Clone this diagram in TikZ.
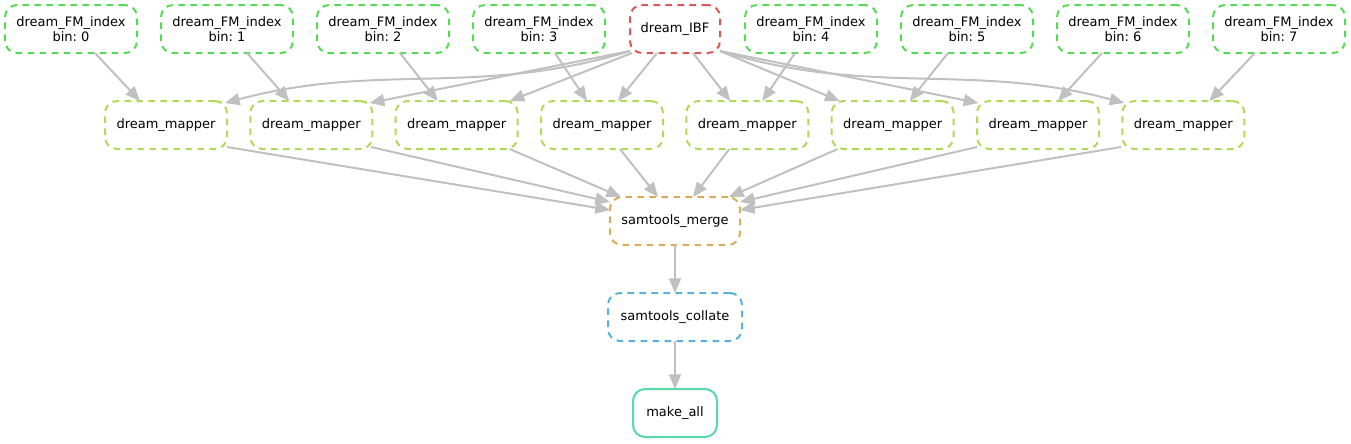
\documentclass[tikz,border=0pt]{standalone}
\usepackage{fontspec}
\setmainfont{DejaVu Sans}
\usepackage{tikz}
\usetikzlibrary{arrows.meta}
\usetikzlibrary{positioning}
\frenchspacing
\definecolor{indexcol}{RGB}{88,217,88}
\definecolor{ibfcol}{RGB}{217,87,87}
\definecolor{mappercol}{RGB}{175,217,87}
\definecolor{mergecol}{RGB}{217,173,87}
\definecolor{collatecol}{RGB}{87,178,217}
\definecolor{allcol}{RGB}{87,217,169}
\definecolor{depcol}{RGB}{192,192,192}
\tikzset{>={Triangle[length=11pt,width=9pt]}, node distance=36pt, font=\fontsize{9.75}{10.75}\selectfont}
\tikzstyle{rule} = [rectangle, rounded corners=9pt, line width=1.5pt, minimum height=36pt, inner sep=0pt, outer sep=0pt, text centered, align=center, fill=white]
\tikzstyle{fmindex} = [rule, draw=indexcol, dash pattern=on 5pt off 4pt, minimum width=99pt]
\tikzstyle{ibfnode} = [rule, draw=ibfcol, dash pattern=on 5pt off 4pt, minimum width=67.5pt]
\tikzstyle{mapper} = [rule, draw=mappercol, dash pattern=on 5pt off 4pt, minimum width=91.5pt]
\tikzstyle{mergenode} = [rule, draw=mergecol, dash pattern=on 5pt off 4pt, minimum width=97.5pt]
\tikzstyle{collatenode} = [rule, draw=collatecol, dash pattern=on 5pt off 4pt, minimum width=100.5pt]
\tikzstyle{allnode} = [rule, draw=allcol, minimum width=63pt]
\tikzstyle{dep} = [->, draw=depcol, line width=1.5pt]

\begin{document}
\begin{tikzpicture}
		\useasboundingbox (0,0) rectangle (1013.25pt,-332.25pt);

		% index jobs and the IBF
		\node [fmindex] at (53.25pt,-21.75pt) (idx0) {dream\_FM\_index\\bin: 0};
		\node [fmindex, right=18pt of idx0] (idx1) {dream\_FM\_index\\bin: 1};
		\node [fmindex, right=18pt of idx1] (idx2) {dream\_FM\_index\\bin: 2};
		\node [fmindex, right=18pt of idx2] (idx3) {dream\_FM\_index\\bin: 3};
		\node [ibfnode, right=18.75pt of idx3] (ibf) {dream\_IBF};
		\node [fmindex, right=18.75pt of ibf] (idx4) {dream\_FM\_index\\bin: 4};
		\node [fmindex, right=18pt of idx4] (idx5) {dream\_FM\_index\\bin: 5};
		\node [fmindex, right=18pt of idx5] (idx6) {dream\_FM\_index\\bin: 6};
		\node [fmindex, right=18pt of idx6] (idx7) {dream\_FM\_index\\bin: 7};

		% mapper jobs
		\node [mapper, below=36pt of idx0, xshift=71.25pt] (m1) {dream\_mapper};
		\node [mapper, right=17.5pt of m1] (m2) {dream\_mapper};
		\node [mapper, right=17.5pt of m2] (m3) {dream\_mapper};
		\node [mapper, right=17.5pt of m3] (m4) {dream\_mapper};
		\node [mapper, right=17.5pt of m4] (m5) {dream\_mapper};
		\node [mapper, right=17.5pt of m5] (m6) {dream\_mapper};
		\node [mapper, right=17.5pt of m6] (m7) {dream\_mapper};
		\node [mapper, right=17.5pt of m7] (m8) {dream\_mapper};

		\node [mergenode, anchor=north, yshift=-36pt] at (ibf |- m4.south) (merge) {samtools\_merge};
		\node [collatenode, below=of merge] (collate) {samtools\_collate};
		\node [allnode, below=of collate] (all) {make\_all};

		\draw [dep] ([xshift=18pt]idx0.south) -- ([xshift=-19.5pt]m1.north);
		\draw [dep] ([xshift=15pt]idx1.south) -- ([xshift=-16.5pt]m2.north);
		\draw [dep] ([xshift=12.75pt]idx2.south) -- ([xshift=-14.25pt]m3.north);
		\draw [dep] ([xshift=12pt]idx3.south) -- ([xshift=-11.25pt]m4.north);
		\draw [dep] ([xshift=-12pt]idx4.south) -- ([xshift=11.25pt]m5.north);
		\draw [dep] ([xshift=-14.25pt]idx5.south) -- ([xshift=12.75pt]m6.north);
		\draw [dep] ([xshift=-15.75pt]idx6.south) -- ([xshift=15pt]m7.north);
		\draw [dep] ([xshift=-18pt]idx7.south) -- ([xshift=19.5pt]m8.north);

		\draw [dep] ([yshift=1.5pt]ibf.south west) to [out=197, in=15] ([xshift=-1.5pt, yshift=-1.5pt]m1.north east);
		\draw [dep] ([yshift=1.5pt]ibf.south west) -- ([xshift=-2pt, yshift=-1.5pt]m2.north east);
		\draw [dep] ([xshift=1.5pt]ibf.south west) -- ([xshift=-6pt]m3.north east);
		\draw [dep] ([xshift=-13.5pt]ibf.south) -- ([xshift=12pt]m4.north);
		\draw [dep] ([xshift=13.5pt]ibf.south) -- ([xshift=-12.75pt]m5.north);
		\draw [dep] ([yshift=1.5pt]ibf.south east) -- ([xshift=6pt]m6.north west);
		\draw [dep] ([yshift=1.5pt]ibf.south east) -- ([xshift=1pt, yshift=-1.5pt]m7.north west);
		\draw [dep] ([yshift=1.5pt]ibf.south east) to [out=-17, in=165] ([xshift=1.5pt, yshift=-1.5pt]m8.north west);

		\draw [dep] ([yshift=1.5pt]m1.south east) -- ([yshift=8.25pt]merge.west);
		\draw [dep] ([xshift=-1pt, yshift=1.5pt]m2.south east) -- ([yshift=14.25pt]merge.west);
		\draw [dep] ([xshift=-6pt]m3.south east) -- ([xshift=8.25pt]merge.north west);
		\draw [dep] ([xshift=13.5pt]m4.south) -- ([xshift=-12.75pt]merge.north);
		\draw [dep] ([xshift=-13.5pt]m5.south) -- ([xshift=13.5pt]merge.north);
		\draw [dep] ([xshift=4.5pt]m6.south west) -- ([xshift=-8.25pt]merge.north east);
		\draw [dep] ([yshift=1.5pt]m7.south west) -- ([yshift=14.25pt]merge.east);
		\draw [dep] ([xshift=-1pt, yshift=1.5pt]m8.south west) -- ([yshift=8.25pt]merge.east);

		\draw [dep] (merge) -- (collate);
		\draw [dep] (collate) -- (all);
	\end{tikzpicture}
\end{document}
